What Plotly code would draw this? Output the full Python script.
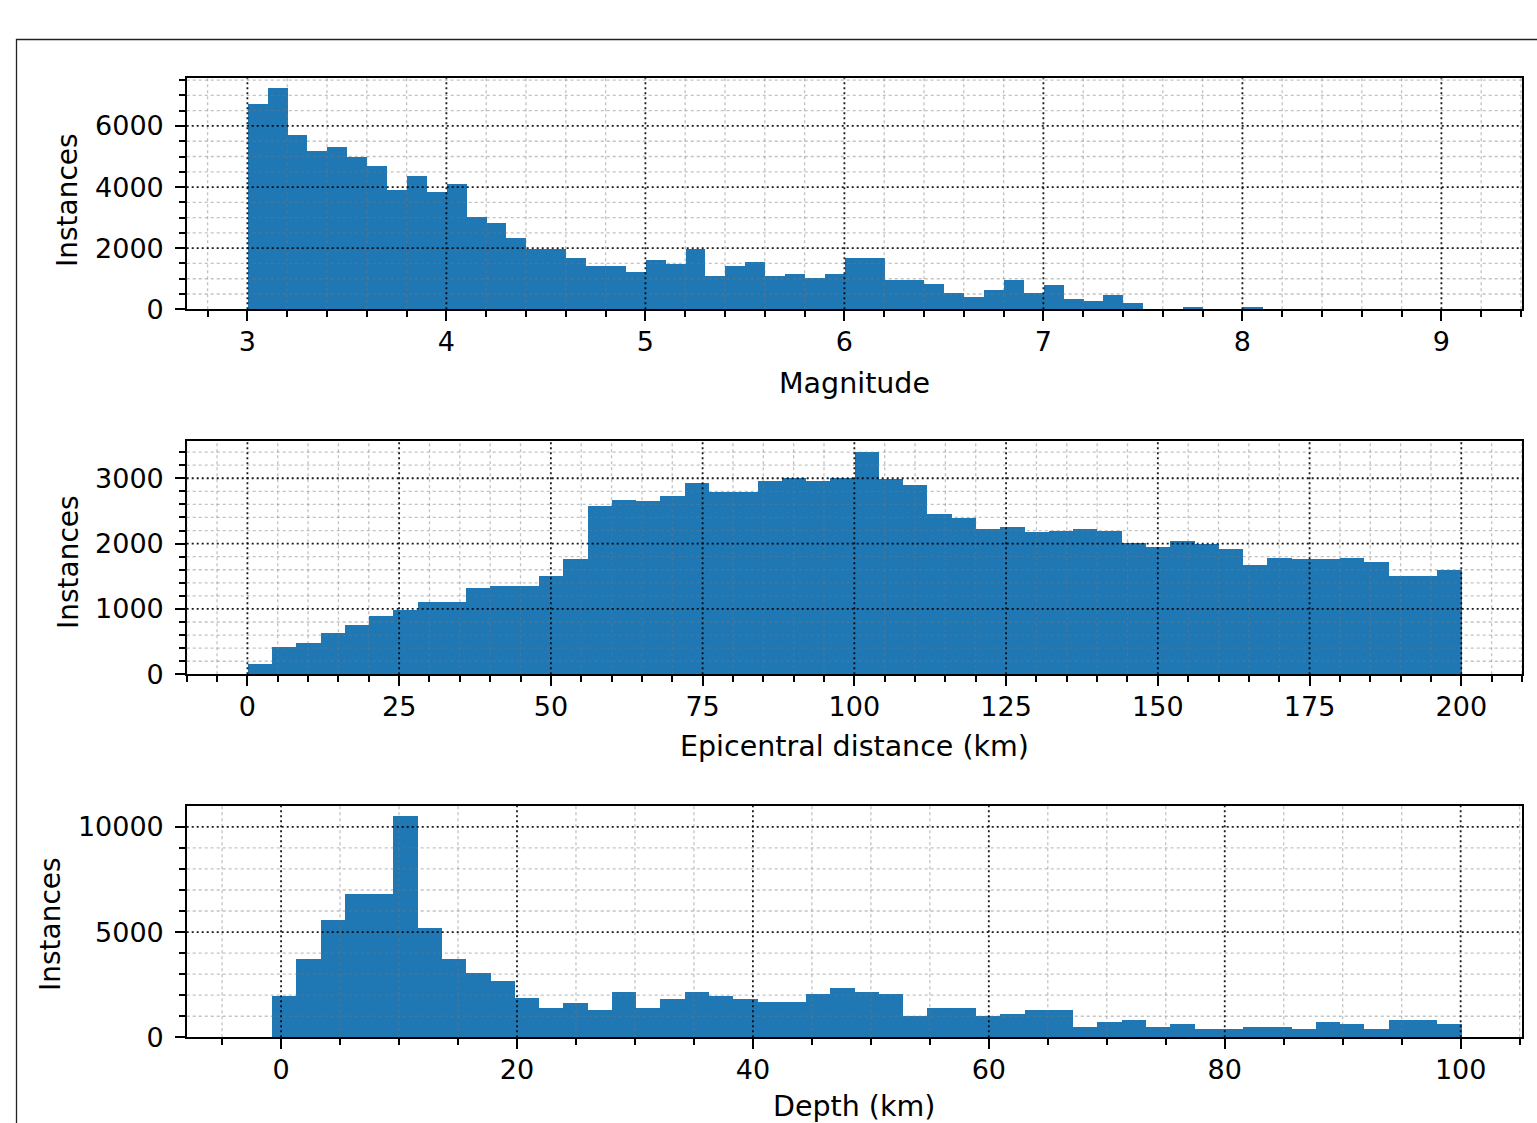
import plotly.graph_objects as go

# ---------------- data ----------------
mag_bin_start = 3.0
mag_bin_width = 0.1
mag_counts = [6710, 7230, 5690, 5170, 5300, 4960, 4690, 3900, 4360, 3815,
              4090, 3020, 2810, 2340, 1975, 1975, 1670, 1400, 1400, 1210,
              1610, 1480, 1960, 1070, 1395, 1540, 1070, 1145, 1000, 1145,
              1670, 1670, 940, 940, 805, 535, 405, 610, 940, 535,
              795, 335, 270, 460, 205, 0, 0, 60, 0, 0, 55]

dist_bin_start = 0.0
dist_bin_width = 4.0
dist_counts = [165, 415, 475, 625, 755, 885, 985, 1100, 1100, 1315,
               1350, 1350, 1510, 1760, 2575, 2665, 2645, 2735, 2920, 2795,
               2795, 2960, 3010, 2960, 3010, 3400, 2985, 2890, 2450, 2395,
               2225, 2260, 2175, 2200, 2225, 2200, 2015, 1950, 2040, 1990,
               1920, 1670, 1785, 1760, 1760, 1785, 1725, 1510, 1510, 1600]

depth_bin_start = -2.85
depth_bin_width = 2.058
depth_counts = [0, 1980, 3730, 5570, 6830, 6830, 10520, 5190, 3730, 3040,
                2660, 1880, 1410, 1610, 1300, 2170, 1410, 1800, 2170, 1980,
                1800, 1690, 1690, 2070, 2360, 2170, 2070, 1000, 1390, 1390,
                1000, 1110, 1300, 1300, 510, 710, 810, 510, 620, 410,
                410, 510, 510, 410, 710, 620, 410, 810, 810, 620]

x_titles = ["Magnitude", "Epicentral distance (km)", "Depth (km)"]
y_title = "Instances"

# ---------------- layout helpers ----------------
W, H, OFF = 1537, 1123, 0
FONT = "DejaVu Sans"
BLUE = "#1f77b4"


def px_x(p):
    return (p - OFF) / W


def px_y(p):
    return 1 - (p - OFF) / H


xdom = [px_x(186.7), px_x(1522.0)]
panels = [
    dict(counts=mag_counts, start=mag_bin_start, width=mag_bin_width,
         xr=[2.695, 9.405], yr=[0, 7560], ydom=[px_y(309.3), px_y(78.3)],
         xd=1, x0=0, xminor=0.2, yd=2000, yminor=500),
    dict(counts=dist_counts, start=dist_bin_start, width=dist_bin_width,
         xr=[-10, 210], yr=[0, 3570], ydom=[px_y(674.3), px_y(441.0)],
         xd=25, x0=0, xminor=5, yd=1000, yminor=200),
    dict(counts=depth_counts, start=depth_bin_start, width=depth_bin_width,
         xr=[-8.0, 105.2], yr=[0, 10990], ydom=[px_y(1037.3), px_y(806.0)],
         xd=20, x0=0, xminor=5, yd=5000, yminor=1000),
]

fig = go.Figure()
shapes = []
annotations = []


def frange(a, b, step, base=0.0):
    import math
    k = math.ceil((a - base) / step - 1e-9)
    out = []
    while base + k * step <= b + 1e-9:
        out.append(round(base + k * step, 6))
        k += 1
    return out


for i, p in enumerate(panels):
    n = i + 1
    xa = "x" if n == 1 else f"x{n}"
    ya = "y" if n == 1 else f"y{n}"
    centers = [p["start"] + p["width"] * (k + 0.5) for k in range(len(p["counts"]))]
    fig.add_trace(go.Bar(x=centers, y=p["counts"], width=p["width"],
                         marker=dict(color=BLUE, line=dict(width=0)),
                         xaxis=xa, yaxis=ya, showlegend=False, hoverinfo="x+y"))

    axis_common = dict(showline=True, linecolor="black", linewidth=2, mirror=True,
                       ticks="outside", ticklen=9.5, tickwidth=2, tickcolor="black",
                       showgrid=False, zeroline=False, automargin=False,
                       tickfont=dict(family=FONT, size=27, color="black"))
    xkey = "xaxis" if n == 1 else f"xaxis{n}"
    ykey = "yaxis" if n == 1 else f"yaxis{n}"
    fig.update_layout(**{
        xkey: dict(axis_common, domain=xdom, range=p["xr"], anchor=ya,
                   tickmode="linear", tick0=p["x0"], dtick=p["xd"],
                   ticklabelstandoff=-2,
                   minor=dict(dtick=p["xminor"], tick0=0, ticks="outside", ticklen=5.5,
                              tickwidth=1.6, tickcolor="black", showgrid=False)),
        ykey: dict(axis_common, domain=p["ydom"], range=p["yr"], anchor=xa,
                   tickmode="linear", tick0=0, dtick=p["yd"], tickformat="d",
                   ticklabelstandoff=6,
                   minor=dict(dtick=p["yminor"], tick0=0, ticks="outside", ticklen=5.5,
                              tickwidth=1.6, tickcolor="black", showgrid=False)),
    })

    # grid drawn above the bars (as in the reference)
    majx = frange(p["xr"][0], p["xr"][1], p["xd"])
    majy = frange(p["yr"][0], p["yr"][1], p["yd"])
    minx = [v for v in frange(p["xr"][0], p["xr"][1], p["xminor"])
            if all(abs(v - m) > 1e-6 for m in majx)]
    miny = [v for v in frange(p["yr"][0], p["yr"][1], p["yminor"])
            if all(abs(v - m) > 1e-6 for m in majy)]
    minor_line = dict(color="rgba(120,120,120,0.45)", width=1.3, dash="3px,3px")
    major_line = dict(color="rgba(0,0,0,0.9)", width=1.8, dash="2px,3px")
    for v in minx:
        shapes.append(dict(type="line", xref=xa, yref=f"{ya} domain", x0=v, x1=v,
                           y0=0, y1=1, line=minor_line, layer="above"))
    for v in miny:
        shapes.append(dict(type="line", xref=f"{xa} domain", yref=ya, x0=0, x1=1,
                           y0=v, y1=v, line=minor_line, layer="above"))
    for v in majx:
        shapes.append(dict(type="line", xref=xa, yref=f"{ya} domain", x0=v, x1=v,
                           y0=0, y1=1, line=major_line, layer="above"))
    for v in majy:
        if v == 0:
            continue
        shapes.append(dict(type="line", xref=f"{xa} domain", yref=ya, x0=0, x1=1,
                           y0=v, y1=v, line=major_line, layer="above"))

# axis titles
title_pos = [(854, 383), (854, 746), (854, 1106)]
ytitle_pos = [(68, 200), (68, 562), (50, 924)]
for t, (cx, cy) in zip(x_titles, title_pos):
    annotations.append(dict(text=t, xref="paper", yref="paper", x=px_x(cx), y=px_y(cy),
                            xanchor="center", yanchor="middle", showarrow=False,
                            font=dict(family=FONT, size=28.5, color="black")))
for (cx, cy) in ytitle_pos:
    annotations.append(dict(text=y_title, xref="paper", yref="paper", x=px_x(cx), y=px_y(cy),
                            xanchor="center", yanchor="middle", showarrow=False, textangle=-90,
                            font=dict(family=FONT, size=28, color="black")))

# outer frame of the page
shapes.append(dict(type="rect", xref="paper", yref="paper",
                   x0=px_x(16.5), x1=px_x(1700), y0=px_y(1300), y1=px_y(39.5),
                   line=dict(color="#222222", width=1.3), fillcolor="rgba(0,0,0,0)",
                   layer="above"))

fig.update_layout(width=W, height=H, margin=dict(l=0, r=0, t=0, b=0, autoexpand=False),
                  paper_bgcolor="white", plot_bgcolor="white", bargap=0,
                  barmode="overlay", shapes=shapes, annotations=annotations,
                  showlegend=False,
                  font=dict(family=FONT, size=27, color="black"))

page_css = ("document.documentElement.style.margin='0';"
            "document.documentElement.style.overflow='hidden';"
            "document.body.style.margin='0';"
            "document.body.style.overflow='hidden';")
fig.write_html("out.html", post_script=page_css, config={"displayModeBar": False})
